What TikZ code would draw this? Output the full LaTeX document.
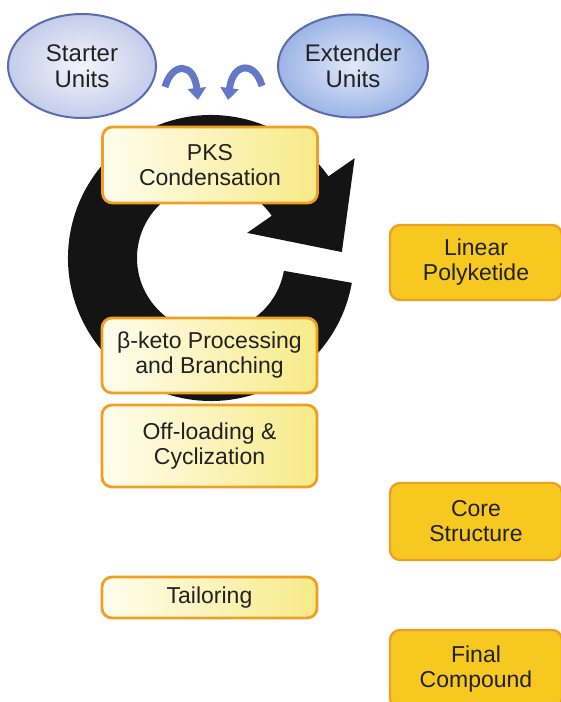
\documentclass[tikz,border=0pt]{standalone}
\usepackage{fontspec}
\setmainfont{Liberation Sans}
\usetikzlibrary{shapes.geometric,arrows.meta}
\definecolor{boxedge}{HTML}{EFA024}
\definecolor{paleyel}{HTML}{FFFDEE}
\definecolor{deepyel}{HTML}{F7EA88}
\definecolor{gold}{HTML}{F7C820}
\definecolor{unitedge}{HTML}{5A6CB0}
\definecolor{startin}{HTML}{F3F5FC}
\definecolor{startout}{HTML}{C4CCEA}
\definecolor{extin}{HTML}{E0E9F8}
\definecolor{extout}{HTML}{9CB4E6}
\definecolor{feedblue}{HTML}{6478C8}
\definecolor{ink}{HTML}{222222}
\begin{document}
\begin{tikzpicture}[x=0.5pt,y=0.5pt,
    stage/.style={draw=boxedge, line width=1.4pt, rounded corners=5pt, left color=paleyel, right color=deepyel, align=center, font=\fontsize{11.5}{12.5}\selectfont, text=ink, inner sep=0pt, minimum width=107.5pt},
    prod/.style={draw=boxedge, line width=1.2pt, rounded corners=5pt, fill=gold, align=center, font=\fontsize{11.5}{12.5}\selectfont, text=ink, inner sep=0pt, minimum width=86pt},
    unit/.style={ellipse, draw=unitedge, line width=1pt, align=center, font=\fontsize{12}{13}\selectfont, text=ink, inner sep=0pt},
    feed/.style={draw=feedblue, line width=3.5pt, -{Triangle[length=6pt,width=9pt]}}]
  \useasboundingbox (0,0) rectangle (561,702);
  \clip (0,0) rectangle (561,702);
  % the black cycle arrow
  \begin{scope}[shift={(211,444)}]
    \fill[black!92] (-10:74) -- (-10:143) arc[start angle=-10, end angle=-325.2, radius=143]
      -- (34.8:175) -- (2.6:131) -- (34.8:44) -- (34.8:74)
      arc[start angle=34.8, end angle=350, radius=74] -- cycle;
  \end{scope}
  \node[unit, inner color=startin, outer color=startout, minimum width=74pt, minimum height=52pt] (starter) at (82,636) {Starter\\Units};
  \node[unit, inner color=extin, outer color=extout, minimum width=75pt, minimum height=51.5pt] (extender) at (353,636) {Extender\\Units};
  \node[stage, minimum height=38pt] (pks) at (210,537) {PKS\\Condensation};
  \node[stage, minimum height=37.5pt] (keto) at (209.5,346.5) {β-keto Processing\\and Branching};
  \node[stage, minimum height=41pt] (offload) at (209.5,256) {Off-loading \&\\Cyclization};
  \node[stage, minimum height=20.5pt] (tailor) at (209.5,104.5) {Tailoring};
  \node[prod, minimum height=37.5pt] (linear) at (476,439.5) {Linear\\Polyketide};
  \node[prod, minimum height=38.5pt] (core) at (476,180.5) {Core\\Structure};
  \node[prod, minimum height=39pt] (final) at (476,33) {Final\\Compound};
  % feeding arrows
  \coordinate (sfrom) at (165,615);
  \coordinate (sto) at (198,602);
  \coordinate (efrom) at (262,616);
  \coordinate (eto) at (228,602);
  \draw[feed] (sfrom) .. controls (172,640) and (194,640) .. (sto);
  \draw[feed] (efrom) .. controls (255,641) and (233,640) .. (eto);
\end{tikzpicture}
\end{document}
